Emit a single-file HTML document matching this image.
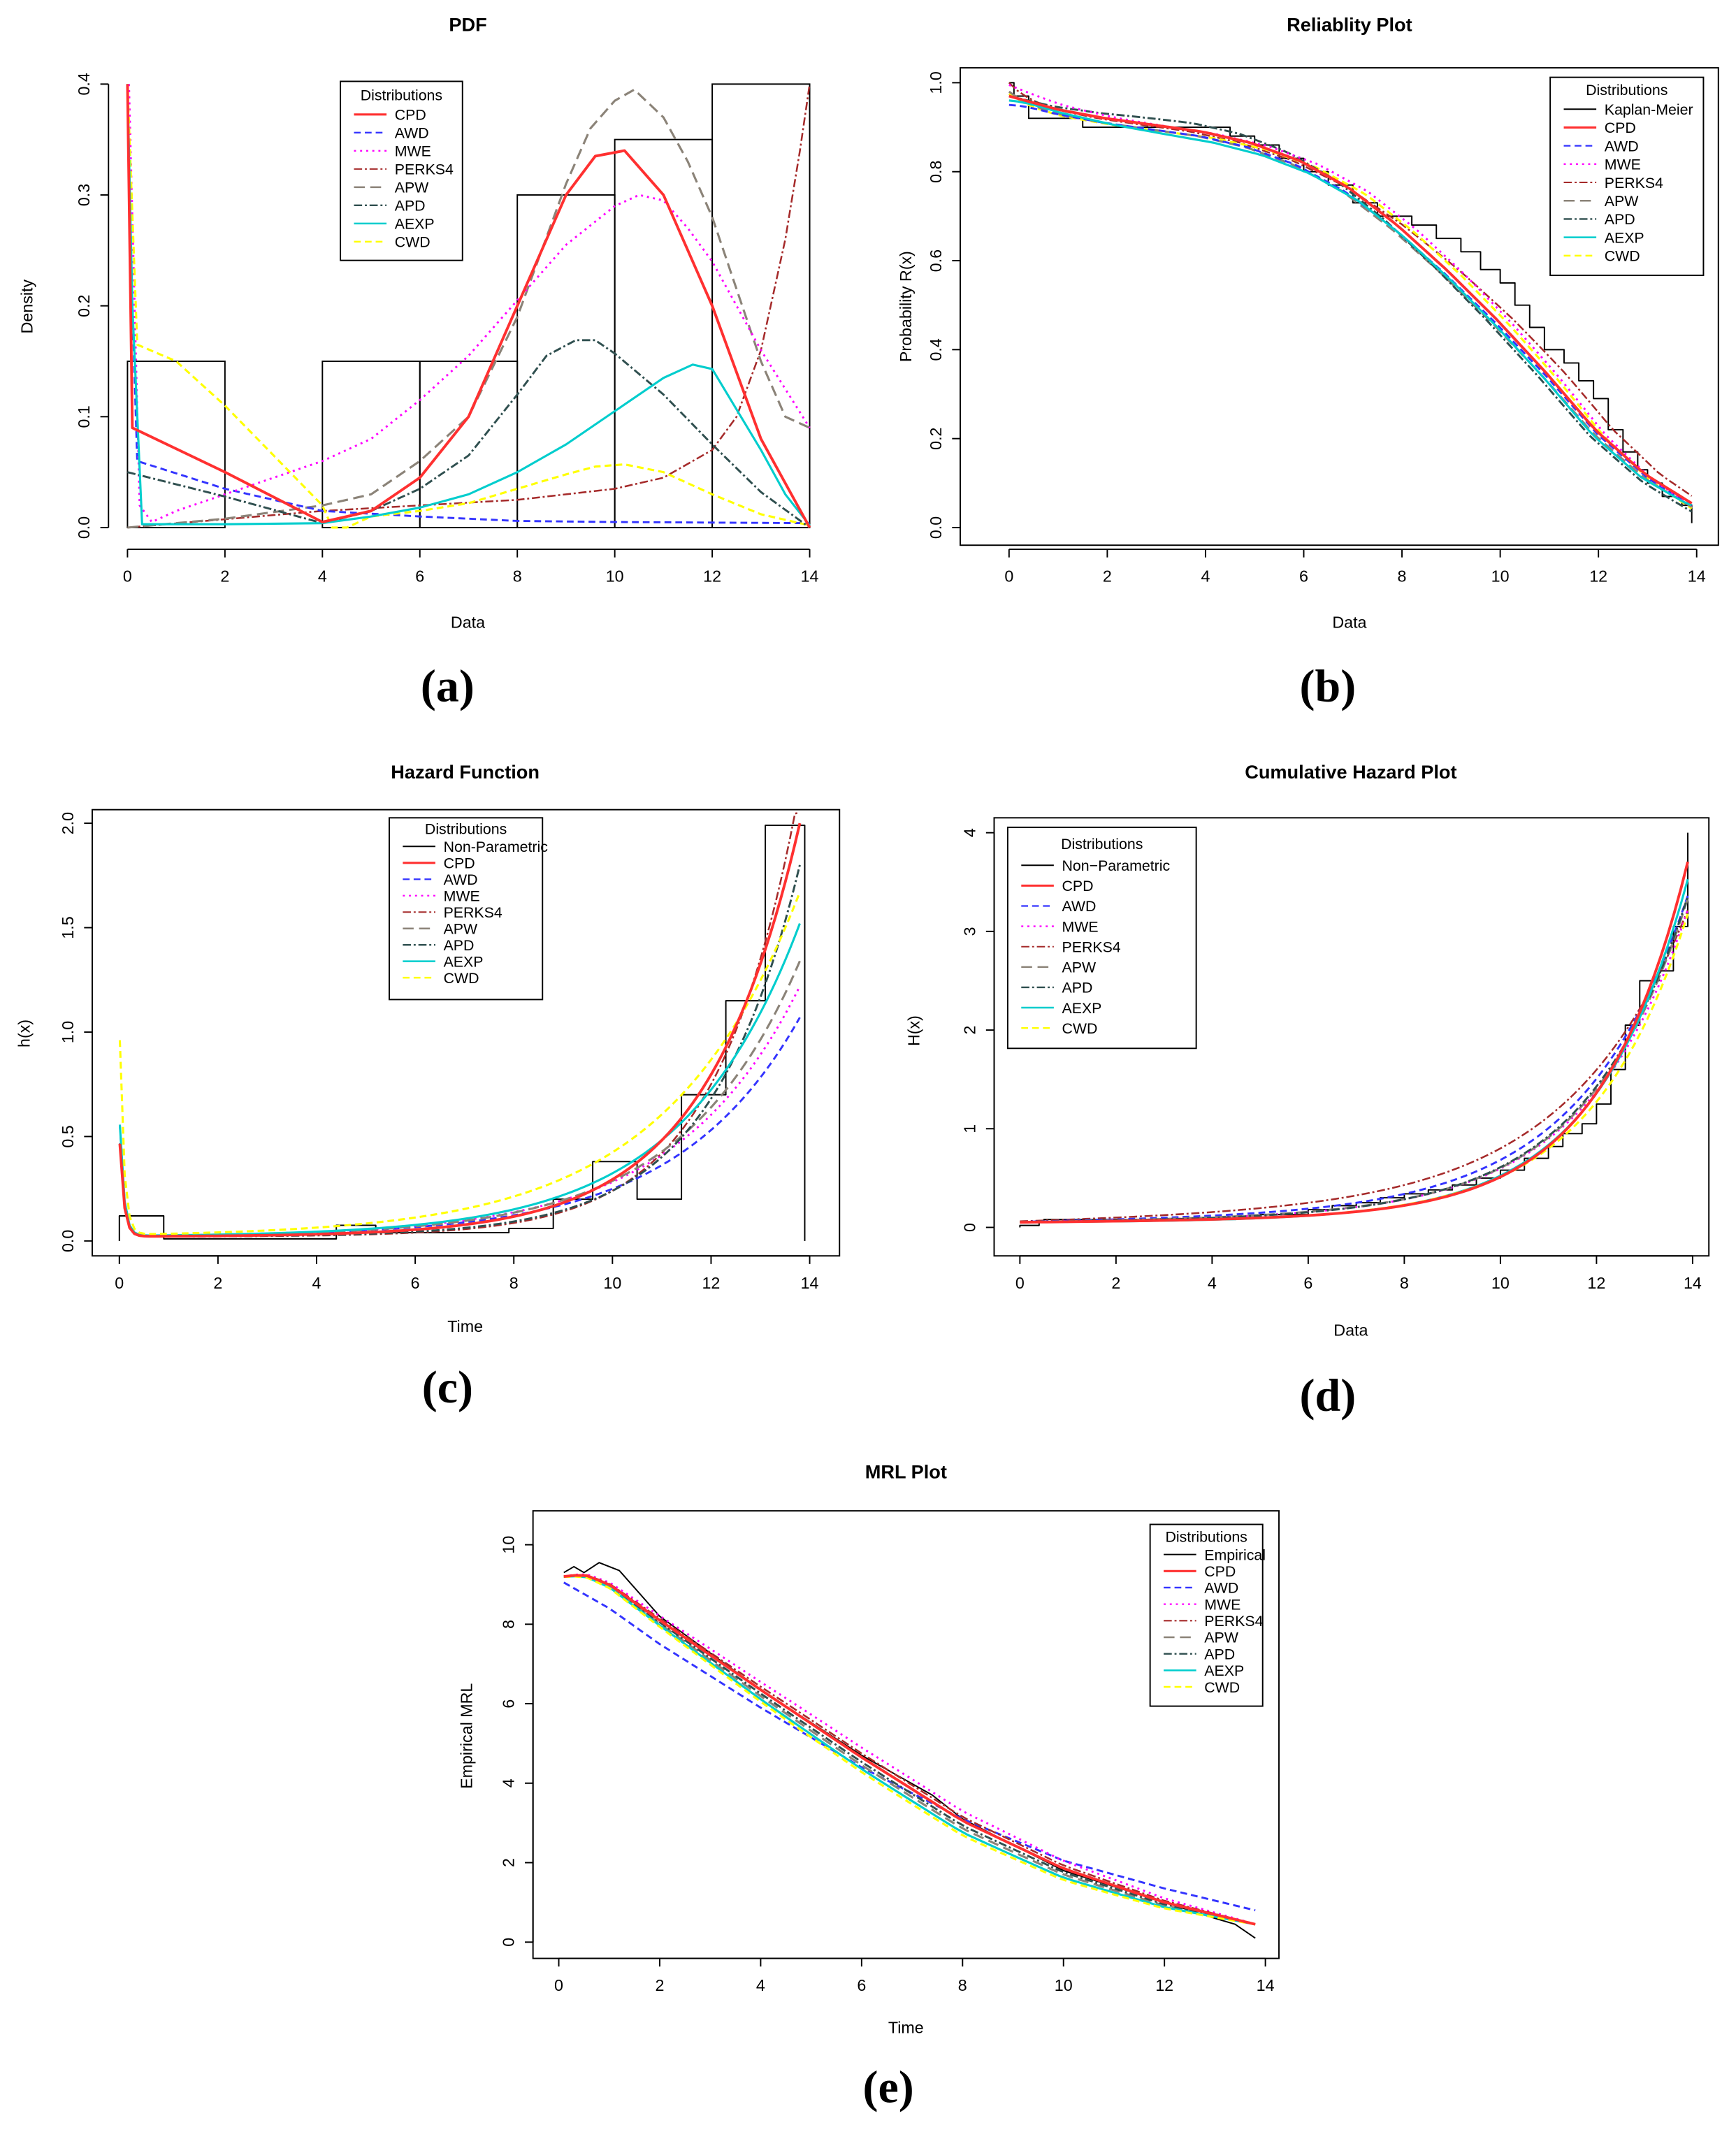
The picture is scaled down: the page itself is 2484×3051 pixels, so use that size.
<!DOCTYPE html>
<html><head><meta charset="utf-8">
<style>
html,body{margin:0;padding:0;background:#fff;}
svg{display:block;}
text{font-family:"Liberation Sans",Arial,sans-serif;}
.t{font-size:12px;fill:#000;}
.lg{font-size:11px;fill:#000;}
.ti{font-size:14px;font-weight:bold;}
.cap{font-family:"Liberation Serif",serif;font-size:34px;font-weight:bold;}
</style></head><body>
<svg id="s" width="2484" height="3051" viewBox="0 0 1280 1572" preserveAspectRatio="none" xmlns="http://www.w3.org/2000/svg">
<rect width="1280" height="1572" fill="#fff"/>
<g id="g"></g>
<text class="cap" x="330" y="517" text-anchor="middle">(a)</text>
<text class="cap" x="979" y="517" text-anchor="middle">(b)</text>
<text class="cap" x="330" y="1034" text-anchor="middle">(c)</text>
<text class="cap" x="979" y="1040" text-anchor="middle">(d)</text>
<text class="cap" x="655" y="1550" text-anchor="middle">(e)</text>
</svg>
<script>
var G=document.getElementById('g'),NS='http://www.w3.org/2000/svg';
function el(n,a,txt){var e=document.createElementNS(NS,n);for(var k in a)e.setAttribute(k,a[k]);if(txt!==undefined)e.textContent=txt;G.appendChild(e);return e;}
var STY={
 red:['#ff3030','',2],blue:['#3333ff','5,3',1.5],mag:['#ff00ff','1.5,3',1.5],brown:['#a52a2a','6,2,1.5,2',1.3],
 grey:['#8b8378','8,4',1.6],dk:['#2f4f4f','6,2,1.5,2',1.5],cyan:['#00cdcd','',1.6],yel:['#ffff00','5,3',1.6],blk:['#000','',1]};
function panel(P){
 var X=function(t){return P.x0+(t-P.tx0)*(P.x1-P.x0)/(P.tx1-P.tx0)},Y=function(v){return P.y0+(v-P.ty0)*(P.y1-P.y0)/(P.ty1-P.ty0)};
 P.X=X;P.Y=Y;
 if(P.box)el('rect',{x:P.box[0],y:P.box[1],width:P.box[2]-P.box[0],height:P.box[3]-P.box[1],fill:'none',stroke:'#000','stroke-width':1});
 var ax=P.axy;
 el('line',{x1:X(P.xt[0]),x2:X(P.xt[P.xt.length-1]),y1:ax,y2:ax,stroke:'#000'});
 P.xt.forEach(function(t){el('line',{x1:X(t),x2:X(t),y1:ax,y2:ax+6,stroke:'#000'});el('text',{class:'t',x:X(t),y:ax+24,'text-anchor':'middle','font-size':P.fs||12},t);});
 var ay=P.axx;
 el('line',{x1:ay,x2:ay,y1:Y(P.yt[0]),y2:Y(P.yt[P.yt.length-1]),stroke:'#000'});
 P.yt.forEach(function(v,i){el('line',{x1:ay,x2:ay-6,y1:Y(v),y2:Y(v),stroke:'#000'});var tx=ay-14,ty=Y(v);el('text',{class:'t',x:tx,y:ty,'text-anchor':'middle',transform:'rotate(-90 '+tx+' '+ty+')','font-size':P.fs||12},P.yl[i]);});
 el('text',{class:'ti',x:P.tix,y:P.tiy,'text-anchor':'middle','font-size':P.tfs||14},P.title);
 el('text',{class:'t',x:P.xlx,y:P.xly,'text-anchor':'middle','font-size':P.fs||12},P.xlab);
 var tx=P.ylx,ty=P.yly;el('text',{class:'t',x:tx,y:ty,'text-anchor':'middle',transform:'rotate(-90 '+tx+' '+ty+')','font-size':P.fs||12},P.ylab);
}
function line(P,pts,s,clip){var st=STY[s];var d=pts.map(function(p,i){return (i?'L':'M')+P.X(p[0]).toFixed(2)+' '+P.Y(Math.min(p[1],P.cap!==undefined?P.cap:1e9)).toFixed(2)}).join('');
 el('path',{d:d,fill:'none',stroke:st[0],'stroke-width':st[2],'stroke-dasharray':st[1],'stroke-linejoin':'round'});}
function fn(f,a,b,n){var r=[];for(var i=0;i<=n;i++){var t=a+(b-a)*i/n;r.push([t,f(t)]);}return r;}
function interp(pts){return function(t){for(var i=1;i<pts.length;i++)if(t<=pts[i][0]){var p=pts[i-1],q=pts[i];return p[1]+(q[1]-p[1])*(t-p[0])/(q[0]-p[0]);}return pts[pts.length-1][1];}}
function legend(x,y,w,h,title,items,fs,lh,t0){
 el('rect',{x:x,y:y,width:w,height:h,fill:'#fff',stroke:'#000'});
 el('text',{class:'lg',x:x+w/2,y:y+t0,'text-anchor':'middle','font-size':fs},title);
 items.forEach(function(it,i){var yy=y+t0+lh*(i+1)-3;var st=STY[it[1]];
  el('line',{x1:x+10,x2:x+34,y1:yy,y2:yy,stroke:st[0],'stroke-width':Math.max(1,st[2]*0.8),'stroke-dasharray':st[1]});
  el('text',{class:'lg',x:x+40,y:yy+4,'font-size':fs},it[0]);});
}
// ---------- (a) PDF
var A={x0:94,x1:597,tx0:0,tx1:14,y0:389,y1:62,ty0:0,ty1:0.4,axy:405,axx:80,xt:[0,2,4,6,8,10,12,14],yt:[0,0.1,0.2,0.3,0.4],yl:['0.0','0.1','0.2','0.3','0.4'],
 title:'PDF',tix:345,tiy:23,xlab:'Data',xlx:345,xly:463,ylab:'Density',ylx:24,yly:226};
panel(A);
[[0,2,0.15],[2,4,0],[4,6,0.15],[6,8,0.15],[8,10,0.30],[10,12,0.35],[12,14,0.40]].forEach(function(b){el('rect',{x:A.X(b[0]),y:A.Y(b[2]),width:A.X(b[1])-A.X(b[0]),height:A.Y(0)-A.Y(b[2]),fill:'none',stroke:'#000','stroke-width':1});});
line(A,[[0,0],[4,0.015],[6,0.02],[8,0.025],[10,0.035],[11,0.045],[12,0.07],[12.5,0.1],[13,0.16],[13.5,0.26],[13.8,0.34],[14,0.4]],'brown');
line(A,[[0,0],[2,0.008],[4,0.02],[5,0.03],[6,0.06],[7,0.1],[8,0.19],[8.5,0.25],[9,0.31],[9.5,0.36],[10,0.385],[10.4,0.395],[11,0.37],[11.5,0.33],[12,0.28],[13,0.15],[13.5,0.1],[14,0.09]],'grey');
line(A,[[0,0.4],[0.1,0.2],[0.2,0.06],[2,0.035],[4,0.015],[6,0.01],[8,0.006],[10,0.005],[14,0.004]],'blue');
line(A,[[0.03,0.4],[0.25,0.02],[0.5,0.005],[1,0.015],[2,0.03],[3,0.045],[4,0.06],[5,0.08],[6,0.115],[7,0.155],[8,0.205],[9,0.255],[10,0.29],[10.5,0.3],[11,0.295],[11.5,0.27],[12,0.24],[13,0.16],[14,0.09]],'mag');
line(A,[[0,0.4],[0.2,0.165],[1,0.15],[2,0.11],[3,0.065],[4,0.02],[4.2,0.0],[4.5,0.0],[5,0.01],[6,0.015],[7,0.022],[8,0.035],[9,0.048],[9.6,0.055],[10.2,0.057],[11,0.05],[12,0.03],[13,0.012],[14,0.002]],'yel');
line(A,[[0,0.05],[2,0.028],[4,0.004],[5,0.015],[6,0.035],[7,0.065],[8,0.12],[8.6,0.155],[9.2,0.169],[9.6,0.169],[10,0.157],[11,0.12],[12,0.075],[13,0.032],[14,0]],'dk');
line(A,[[0,0.4],[0.1,0.2],[0.3,0.003],[2,0.003],[4,0.004],[5,0.01],[6,0.018],[7,0.03],[8,0.05],[9,0.075],[10,0.105],[11,0.135],[11.6,0.147],[12,0.143],[13,0.07],[13.5,0.03],[14,0.002]],'cyan');
line(A,[[0,0.4],[0.1,0.09],[2,0.05],[4,0.005],[5,0.015],[6,0.045],[7,0.1],[8,0.2],[9,0.3],[9.6,0.335],[10.2,0.34],[11,0.3],[12,0.2],[13,0.08],[14,0]],'red');
legend(251,60,90,132,'Distributions',[['CPD','red'],['AWD','blue'],['MWE','mag'],['PERKS4','brown'],['APW','grey'],['APD','dk'],['AEXP','cyan'],['CWD','yel']],11,13.4,14);
// ---------- (b) Reliability
var B={x0:744,x1:1251,tx0:0,tx1:14,y0:389,y1:61,ty0:0,ty1:1,axy:405,axx:708,box:[708,50,1267,402],xt:[0,2,4,6,8,10,12,14],yt:[0,0.2,0.4,0.6,0.8,1],yl:['0.0','0.2','0.4','0.6','0.8','1.0'],
 title:'Reliablity Plot',tix:995,tiy:23,xlab:'Data',xlx:995,xly:463,ylab:'Probability R(x)',ylx:672,yly:226};
panel(B);
var base=[[0,0.97],[1,0.94],[2,0.92],[3,0.905],[4,0.89],[5,0.865],[6,0.825],[7,0.765],[8,0.68],[9,0.58],[10,0.47],[11,0.35],[12,0.22],[13,0.12],[14,0.05]];
var bf=interp(base);
function vb(dt,dv,s0){return fn(function(t){return Math.min(1,bf(Math.max(0,t+dt(t)))+dv(t)+s0*Math.exp(-t*3));},0,13.9,80);}
var km=[],v=1,tt=0;[[0.1,0.97],[0.4,0.92],[1.5,0.9],[3,0.9],[4.5,0.88],[5,0.86],[5.5,0.83],[6,0.8],[6.5,0.77],[7,0.73],[7.5,0.7],[8.2,0.68],[8.7,0.65],[9.2,0.62],[9.6,0.58],[10,0.55],[10.3,0.5],[10.6,0.45],[10.9,0.4],[11.3,0.37],[11.6,0.33],[11.9,0.29],[12.2,0.22],[12.5,0.17],[12.8,0.13],[13,0.1],[13.3,0.07],[13.7,0.05],[13.9,0.01]].forEach(function(p){km.push([p[0],v]);km.push([p[0],p[1]]);v=p[1];});
km.unshift([0,1]);line(B,km,'blk');
line(B,vb(function(t){return 0.3*Math.sin(t/2.5)},function(t){return 0},0.03),'brown');
line(B,vb(function(t){return -0.25*Math.sin(t/4.5)},function(t){return -0.015},0.02),'yel');
line(B,vb(function(t){return 0.2*Math.sin(t/4.5)},function(t){return -0.01},0.02),'grey');
line(B,vb(function(t){return 0.35*Math.sin(t/4.5)},function(t){return 0.02*Math.sin(t/3)},0),'dk');
line(B,vb(function(t){return 0.15*Math.sin(t/4)},function(t){return -0.01},-0.01),'blue');
line(B,vb(function(t){return -0.3*Math.sin(t/4.5)},function(t){return 0.035*Math.exp(-t/2)-0.01},0.0),'mag');
line(B,vb(function(t){return -0.15*Math.sin(t/3)},function(t){return -0.03*Math.sin(t/4.4)},-0.01),'cyan');
line(B,vb(function(t){return 0.1*Math.sin(t/5)},function(t){return 0},0),'red');
legend(1143,57,113,146,'Distributions',[['Kaplan-Meier','blk'],['CPD','red'],['AWD','blue'],['MWE','mag'],['PERKS4','brown'],['APW','grey'],['APD','dk'],['AEXP','cyan'],['CWD','yel']],11,13.5,13);
// ---------- (c) Hazard
var C={x0:88,x1:597,tx0:0,tx1:14,y0:915,y1:607,ty0:0,ty1:2,axy:926,axx:68,box:[68,597,619,926],xt:[0,2,4,6,8,10,12,14],yt:[0,0.5,1,1.5,2],yl:['0.0','0.5','1.0','1.5','2.0'],
 title:'Hazard Function',tix:343,tiy:574,xlab:'Time',xlx:343,xly:982,ylab:'h(x)',ylx:22,yly:762,fs:11,cap:2.05};
panel(C);
var st=[[0,0.12],[0.9,0.01],[4.4,0.075],[5.2,0.04],[7.9,0.06],[8.8,0.2],[9.6,0.38],[10.5,0.2],[11.4,0.7],[12.3,1.15],[13.1,1.99],[13.9,1.99]];
var sp=[[0,0]];st.forEach(function(p,i){sp.push([p[0],sp[sp.length-1][1]]);sp.push([p[0],p[1]]);});sp.push([13.9,0]);
line(C,sp,'blk');
function hz(end,k,sp){return fn(function(t){return 0.02+end*Math.exp(k*(t-13.8))+sp*Math.exp(-t*12);},0.01,13.8,140);}
line(C,hz(1.05,0.4,0.6),'blue');line(C,hz(1.2,0.4,0.5),'mag');line(C,hz(2.15,0.6,0.5),'brown');line(C,hz(1.32,0.42,0.5),'grey');
line(C,hz(1.78,0.55,0.5),'dk');line(C,hz(1.5,0.42,0.6),'cyan');line(C,hz(1.65,0.37,1.05),'yel');line(C,hz(1.98,0.52,0.5),'red');
legend(287,603,113,134,'Distributions',[['Non-Parametric','blk'],['CPD','red'],['AWD','blue'],['MWE','mag'],['PERKS4','brown'],['APW','grey'],['APD','dk'],['AEXP','cyan'],['CWD','yel']],10,12.1,12);
// ---------- (d) Cumulative hazard
var D={x0:752,x1:1248,tx0:0,tx1:14,y0:905,y1:614,ty0:0,ty1:4,axy:926,axx:733,box:[733,603,1260,926],xt:[0,2,4,6,8,10,12,14],yt:[0,1,2,3,4],yl:['0','1','2','3','4'],
 title:'Cumulative Hazard Plot',tix:996,tiy:574,xlab:'Data',xlx:996,xly:985,ylab:'H(x)',ylx:678,yly:760,fs:14,tfs:16};
panel(D);
var dk=[[0,0.02],[0.4,0.06],[0.5,0.08],[4.5,0.1],[5,0.13],[6,0.18],[6.5,0.22],[7,0.25],[7.5,0.3],[8,0.34],[8.5,0.38],[9,0.43],[9.5,0.5],[10,0.58],[10.5,0.7],[11,0.82],[11.3,0.95],[11.7,1.05],[12,1.25],[12.3,1.6],[12.6,2.05],[12.9,2.5],[13.3,2.6],[13.6,3.05],[13.9,3.2],[13.9,4.0]];
var dsp=[];var pv=0;dk.forEach(function(p){dsp.push([p[0],pv]);dsp.push([p[0],p[1]]);pv=p[1];});line(D,dsp,'blk');
function ch(end,k,o){return fn(function(t){return 0.05+o*t+end*Math.exp(k*(t-13.9));},0,13.9,100);}
line(D,ch(3.0,0.4,0.012),'brown');line(D,ch(3.2,0.45,0.008),'blue');line(D,ch(3.1,0.47,0.005),'mag');line(D,ch(3.2,0.48,0.006),'grey');
line(D,ch(3.25,0.47,0.004),'dk');line(D,ch(3.45,0.52,0.002),'cyan');line(D,ch(3.1,0.5,0.002),'yel');line(D,ch(3.6,0.55,0.004),'red');
legend(743,610,139,163,'Distributions',[['Non\u2212Parametric','blk'],['CPD','red'],['AWD','blue'],['MWE','mag'],['PERKS4','brown'],['APW','grey'],['APD','dk'],['AEXP','cyan'],['CWD','yel']],12.5,15,16);
// ---------- (e) MRL
var E={x0:412,x1:933,tx0:0,tx1:14,y0:1432,y1:1139,ty0:0,ty1:10,axy:1444,axx:393,box:[393,1114,943,1444],xt:[0,2,4,6,8,10,12,14],yt:[0,2,4,6,8,10],yl:['0','2','4','6','8','10'],
 title:'MRL Plot',tix:668,tiy:1090,xlab:'Time',xlx:668,xly:1499,ylab:'Empirical MRL',ylx:348,yly:1280,fs:11};
panel(E);
var mb=interp([[0.1,9.2],[0.5,9.25],[1,9.0],[2,8.1],[4,6.35],[6,4.65],[8,3.05],[10,1.85],[12,1.0],[13.8,0.45]]);
line(E,[[0.1,9.3],[0.3,9.45],[0.5,9.3],[0.8,9.55],[1.2,9.35],[2,8.2],[4,6.35],[6,4.7],[7.4,3.7],[8,3.1],[10,1.8],[12,1.0],[13,0.6],[13.4,0.45],[13.8,0.1]],'blk');
line(E,[[0.1,9.05],[1,8.4],[2,7.5],[4,5.9],[6,4.4],[8,3.1],[10,2.05],[12,1.35],[13.8,0.8]],'blue');
function mv(d){return fn(function(t){return mb(t)+d(t);},0.1,13.8,60);}
line(E,mv(function(t){return 0.25*Math.sin(t/4.4)}),'mag');
line(E,mv(function(t){return 0.1*Math.sin(t/4.4)}),'brown');
line(E,mv(function(t){return -0.2*Math.sin(t/4.4)}),'grey');
line(E,mv(function(t){return -0.12*Math.sin(t/4.4)}),'dk');
line(E,mv(function(t){return -0.3*Math.sin(t/4.4)}),'cyan');
line(E,mv(function(t){return -0.38*Math.sin(t/4.4)}),'yel');
line(E,mv(function(t){return 0}),'red');
legend(848,1124,83,134,'Distributions',[['Empirical','blk'],['CPD','red'],['AWD','blue'],['MWE','mag'],['PERKS4','brown'],['APW','grey'],['APD','dk'],['AEXP','cyan'],['CWD','yel']],10,12.2,13);
</script>
</body></html>
